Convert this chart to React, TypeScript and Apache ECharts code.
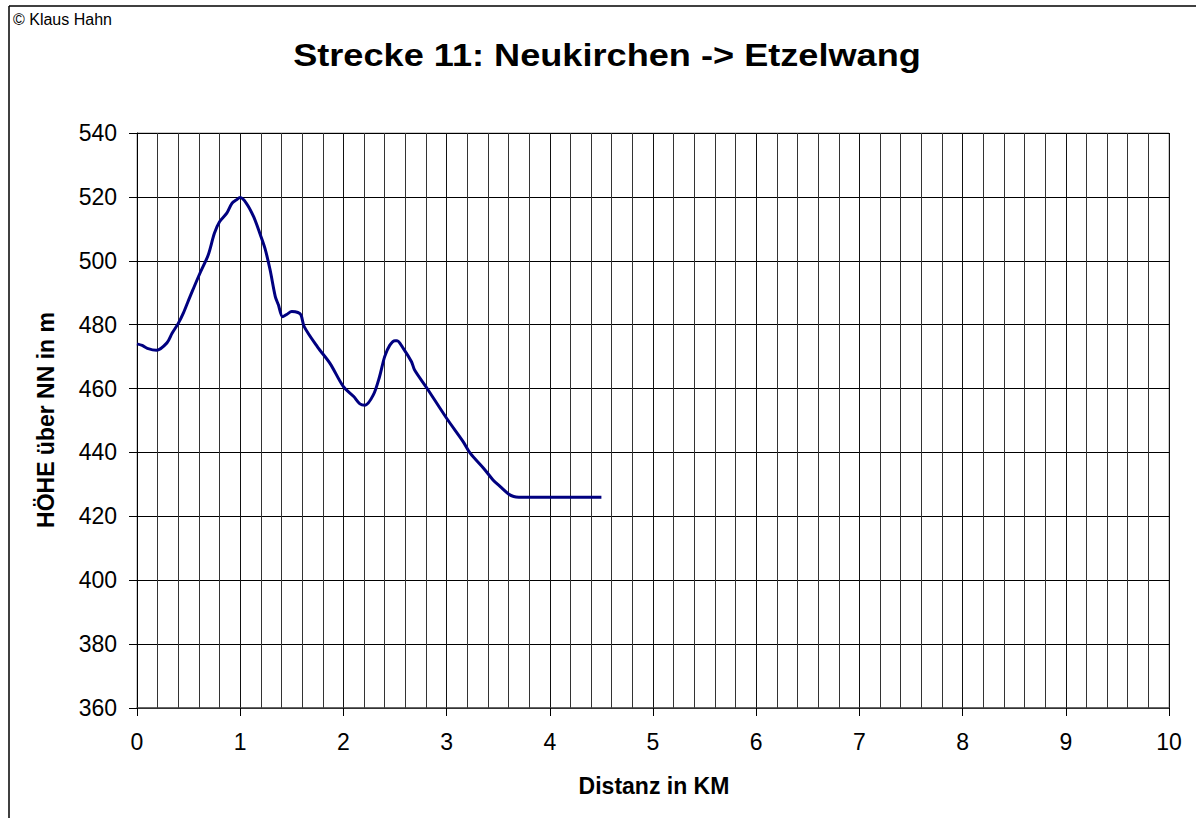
import React, { useEffect, useRef } from "react";
import * as echarts from "echarts";

const titleText = "Strecke 11: Neukirchen -> Etzelwang";
const copyrightText = "© Klaus Hahn";
const xAxisTitle = "Distanz in KM";
const yAxisTitle = "HÖHE über NN in m";

const distanceKm = [
  0, 0.05, 0.1, 0.19, 0.29, 0.34, 0.4, 0.45, 0.5, 0.54, 0.61, 0.69, 0.75, 0.8, 0.87, 0.92, 0.96, 1.0,
  1.06, 1.13, 1.19, 1.24, 1.29, 1.34, 1.37, 1.41, 1.45, 1.5, 1.56, 1.59, 1.62, 1.75, 1.87, 2.0, 2.1,
  2.16, 2.21, 2.29, 2.35, 2.4, 2.45, 2.5, 2.52, 2.58, 2.66, 2.69, 2.81, 3.0, 3.16, 3.23, 3.36, 3.45,
  3.52, 3.6, 3.65, 3.7, 4.5,
];
const elevationM = [
  474, 473.5, 472.6, 472, 474.3, 477.3, 480.4, 483.7, 487.7, 490.8, 496.1, 501.8, 508.6, 512.2, 514.9,
  518, 519, 519.8, 518, 513.8, 508.6, 503.9, 497.1, 488.8, 486.2, 482.5, 483.2, 484.1, 483.8, 483,
  479.4, 473, 467.9, 460.6, 457.5, 455.2, 454.8, 458, 463.7, 470, 473.6, 475, 475, 472.6, 468.4, 465.8,
  460.1, 450.7, 443.4, 439.7, 435, 431.4, 429.3, 427, 426.2, 426, 426,
];

const xMin = 0;
const xMax = 10;
const xStep = 1;
const yMin = 360;
const yMax = 540;
const yStep = 20;

const FONT = "'Liberation Sans', Arial, sans-serif";

export default function App() {
  const ref = useRef<HTMLDivElement>(null);

  useEffect(() => {
    document.body.style.margin = "0";
    const chart = echarts.init(ref.current!, null, { renderer: "svg" });
    const data = distanceKm.map((d, i) => [d, elevationM[i]]);
    chart.setOption({
      animation: false,
      backgroundColor: "#ffffff",
      grid: {
        left: 137,
        right: 27,
        top: 133,
        bottom: 110,
        show: true,
        borderColor: "#999999",
        borderWidth: 1,
        backgroundColor: "transparent",
      },
      xAxis: {
        type: "value",
        min: xMin,
        max: xMax,
        interval: xStep,
        axisLine: { show: true, onZero: false, lineStyle: { color: "#444444", width: 1.5 } },
        axisTick: { show: true, inside: false, length: 8, lineStyle: { color: "#000000" } },
        axisLabel: { fontSize: 23, color: "#000000", fontFamily: FONT, margin: 22 },
        splitLine: { show: true, lineStyle: { color: "#111111", width: 1 } },
        minorTick: { show: false, splitNumber: 5 },
        minorSplitLine: { show: true, lineStyle: { color: "#333333", width: 1 } },
      },
      yAxis: {
        type: "value",
        min: yMin,
        max: yMax,
        interval: yStep,
        axisLine: { show: true, lineStyle: { color: "#000000", width: 1 } },
        axisTick: { show: true, inside: false, length: 8, lineStyle: { color: "#000000" } },
        axisLabel: { fontSize: 23, color: "#000000", fontFamily: FONT, margin: 20 },
        splitLine: { show: true, lineStyle: { color: "#000000", width: 1 } },
      },
      series: [
        {
          type: "line",
          data,
          showSymbol: false,
          symbol: "none",
          smooth: 0.3,
          lineStyle: { color: "#000080", width: 3 },
        },
      ],
      graphic: [
        {
          type: "line",
          shape: { x1: 9, y1: 6, x2: 1196, y2: 6 },
          style: { stroke: "#000000", lineWidth: 1.5 },
        },
        {
          type: "line",
          shape: { x1: 9, y1: 6, x2: 9, y2: 818 },
          style: { stroke: "#000000", lineWidth: 1.5 },
        },
        {
          type: "text",
          x: 13,
          y: 11,
          style: {
            text: copyrightText,
            font: `16px ${FONT}`,
            fill: "#000000",
            align: "left",
            verticalAlign: "top",
          },
        },
        {
          type: "text",
          x: 607,
          y: 55,
          scaleX: 1.13,
          style: {
            text: titleText,
            font: `bold 32px ${FONT}`,
            fill: "#000000",
            align: "center",
            verticalAlign: "middle",
          },
        },
        {
          type: "text",
          x: 654,
          y: 786,
          style: {
            text: xAxisTitle,
            font: `bold 23px ${FONT}`,
            fill: "#000000",
            align: "center",
            verticalAlign: "middle",
          },
        },
        {
          type: "text",
          x: 46,
          y: 420,
          rotation: Math.PI / 2,
          style: {
            text: yAxisTitle,
            font: `bold 23px ${FONT}`,
            fill: "#000000",
            align: "center",
            verticalAlign: "middle",
          },
        },
      ],
    });
    return () => chart.dispose();
  }, []);

  return <div ref={ref} style={{ width: 1196, height: 818 }} />;
}
